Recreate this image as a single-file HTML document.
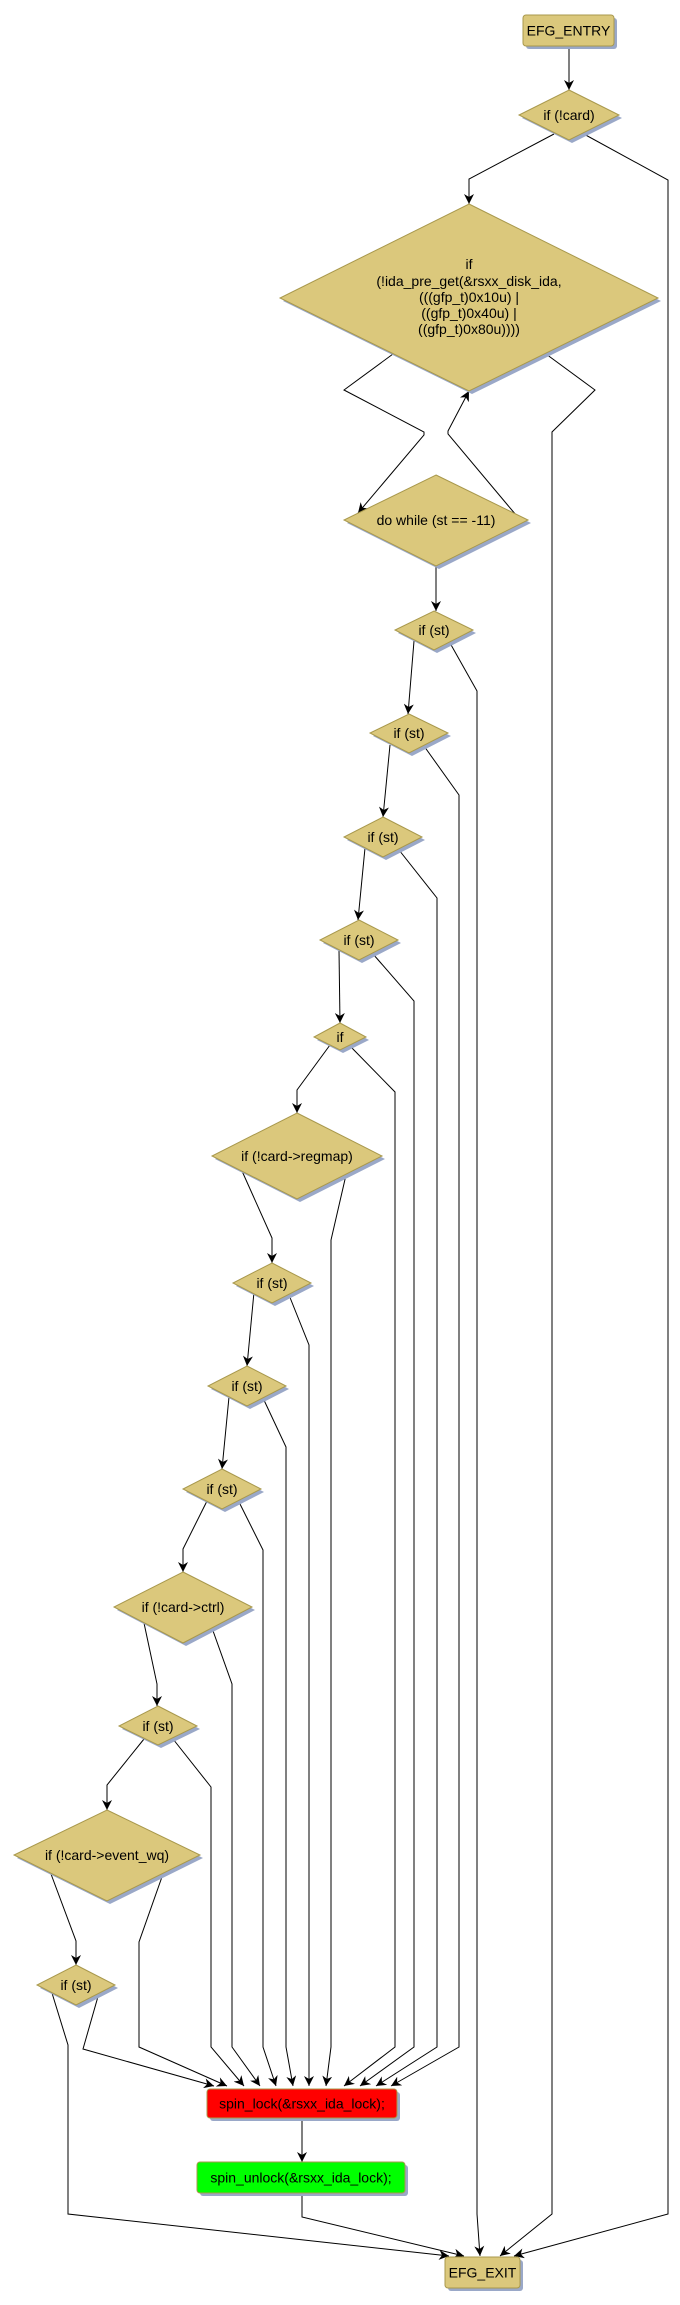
<!DOCTYPE html>
<html><head><meta charset="utf-8"><style>
html,body{margin:0;padding:0;background:#fff;}
svg{display:block;}
text{font-family:"Liberation Sans","DejaVu Sans",sans-serif;font-size:14px;fill:#000;}
.d{fill:#dbc87c;stroke:#a8984c;stroke-width:1;}
.s{fill:#9aa8c8;}
.e{fill:none;stroke:#000;stroke-width:1;}
</style></head><body>
<svg width="680" height="2305" viewBox="0 0 680 2305" xmlns="http://www.w3.org/2000/svg">
<defs>
<marker id="a" viewBox="0 0 10 10" refX="10" refY="5" markerWidth="10" markerHeight="10" markerUnits="userSpaceOnUse" orient="auto">
<path d="M0,0 L10,5 L0,10 L3,5 z" fill="#000"/></marker>
</defs>
<!-- edges -->
<g class="e">
<polyline points="569,46 569,90" marker-end="url(#a)"/>
<polyline points="554,134 469,179 469,204" marker-end="url(#a)"/>
<polyline points="582,133 668,180 668,2214 514,2256" marker-end="url(#a)"/>
<polyline points="393,354 344,390 424,432 424,435 358,513" marker-end="url(#a)"/>
<polyline points="516,515 448,434 448,431 469,391" marker-end="url(#a)"/>
<polyline points="546,354 595,390 552,432 552,2214 500,2256" marker-end="url(#a)"/>
<polyline points="436,566 436,611" marker-end="url(#a)"/>
<polyline points="414,641 408,714" marker-end="url(#a)"/>
<polyline points="450,643 477,691 477,2214 480,2256" marker-end="url(#a)"/>
<polyline points="390,745 383,817" marker-end="url(#a)"/>
<polyline points="424,746 459,795 459,2047 391,2086" marker-end="url(#a)"/>
<polyline points="365,848 358,920" marker-end="url(#a)"/>
<polyline points="399,850 437,898 437,2047 376,2086" marker-end="url(#a)"/>
<polyline points="339,950 340,1023" marker-end="url(#a)"/>
<polyline points="373,954 414,1001 414,2047 360,2086" marker-end="url(#a)"/>
<polyline points="330,1045 297,1090 297,1113" marker-end="url(#a)"/>
<polyline points="350,1046 395,1092 395,2047 344,2086" marker-end="url(#a)"/>
<polyline points="242,1171 272,1238 272,1263" marker-end="url(#a)"/>
<polyline points="346,1175 331,1240 331,2047 326,2086" marker-end="url(#a)"/>
<polyline points="254,1292 247,1366" marker-end="url(#a)"/>
<polyline points="289,1295 309,1345 309,2086" marker-end="url(#a)"/>
<polyline points="229,1397 222,1469" marker-end="url(#a)"/>
<polyline points="263,1398 286,1447 286,2047 293,2086" marker-end="url(#a)"/>
<polyline points="207,1501 183,1549 183,1572" marker-end="url(#a)"/>
<polyline points="239,1502 263,1550 263,2047 276,2086" marker-end="url(#a)"/>
<polyline points="144,1623 157,1684 157,1706" marker-end="url(#a)"/>
<polyline points="212,1628 232,1684 232,2047 260,2086" marker-end="url(#a)"/>
<polyline points="144,1739 107,1785 107,1810" marker-end="url(#a)"/>
<polyline points="173,1739 211,1787 211,2047 244,2086" marker-end="url(#a)"/>
<polyline points="51,1874 76,1941 76,1965" marker-end="url(#a)"/>
<polyline points="163,1874 139,1942 139,2047 227,2086" marker-end="url(#a)"/>
<polyline points="52,1993 68,2045 68,2214 449,2256" marker-end="url(#a)"/>
<polyline points="99,1993 83,2049 214,2086" marker-end="url(#a)"/>
<polyline points="302,2118 302,2162" marker-end="url(#a)"/>
<polyline points="302,2193 302,2217 464,2256" marker-end="url(#a)"/>
</g>
<!-- boxes -->
<rect x="526" y="18" width="91" height="31" rx="3" class="s"/>
<rect x="523" y="15" width="91" height="31" rx="3" class="d"/>
<text x="568.5" y="35.5" text-anchor="middle">EFG_ENTRY</text>

<rect x="210" y="2092" width="190" height="29" rx="3" class="s"/>
<rect x="207" y="2089" width="190" height="29" rx="3" fill="#ff0000" stroke="#a8984c"/>
<text x="302" y="2108.5" text-anchor="middle">spin_lock(&amp;rsxx_ida_lock);</text>

<rect x="200" y="2165" width="208" height="31" rx="3" class="s"/>
<rect x="197" y="2162" width="208" height="31" rx="3" fill="#00ff00" stroke="#a8984c"/>
<text x="301" y="2182.5" text-anchor="middle">spin_unlock(&amp;rsxx_ida_lock);</text>

<rect x="448" y="2260" width="75" height="31" rx="3" class="s"/>
<rect x="445" y="2257" width="75" height="31" rx="3" class="d"/>
<text x="482.5" y="2277.5" text-anchor="middle">EFG_EXIT</text>

<!-- diamonds: shadow then shape -->
<g>
<polygon class="s" points="572,93 622,118 572,143 522,118"/>
<polygon class="d" points="569,90 619,115 569,140 519,115"/>
<text x="569" y="120" text-anchor="middle">if (!card)</text>

<polygon class="s" points="472,207 661,301 472,394 283,301"/>
<polygon class="d" points="469,204 658,298 469,391 280,298"/>
<text x="469" y="269" text-anchor="middle">if</text>
<text x="469" y="286" text-anchor="middle">(!ida_pre_get(&amp;rsxx_disk_ida,</text>
<text x="469" y="302" text-anchor="middle">(((gfp_t)0x10u) |</text>
<text x="469" y="318" text-anchor="middle">((gfp_t)0x40u) |</text>
<text x="469" y="334" text-anchor="middle">((gfp_t)0x80u))))</text>

<polygon class="s" points="439,478 531,523 439,569 347,523"/>
<polygon class="d" points="436,475 528,520 436,566 344,520"/>
<text x="436" y="525" text-anchor="middle">do while (st == -11)</text>

<polygon class="s" points="437,614 476,633 437,653 398,633"/>
<polygon class="d" points="434,611 473,630 434,650 395,630"/>
<text x="434" y="635" text-anchor="middle">if (st)</text>

<polygon class="s" points="412,717 451,736 412,756 373,736"/>
<polygon class="d" points="409,714 448,733 409,753 370,733"/>
<text x="409" y="738" text-anchor="middle">if (st)</text>

<polygon class="s" points="386,820 425,840 386,860 347,840"/>
<polygon class="d" points="383,817 422,837 383,857 344,837"/>
<text x="383" y="842" text-anchor="middle">if (st)</text>

<polygon class="s" points="362,923 401,943 362,963 323,943"/>
<polygon class="d" points="359,920 398,940 359,960 320,940"/>
<text x="359" y="945" text-anchor="middle">if (st)</text>

<polygon class="s" points="343,1026 369,1040 343,1053 317,1040"/>
<polygon class="d" points="340,1023 366,1037 340,1050 314,1037"/>
<text x="340" y="1042" text-anchor="middle">if</text>

<polygon class="s" points="300,1116 385,1159 300,1202 215,1159"/>
<polygon class="d" points="297,1113 382,1156 297,1199 212,1156"/>
<text x="297" y="1161" text-anchor="middle">if (!card-&gt;regmap)</text>

<polygon class="s" points="275,1266 314,1286 275,1306 236,1286"/>
<polygon class="d" points="272,1263 311,1283 272,1303 233,1283"/>
<text x="272" y="1288" text-anchor="middle">if (st)</text>

<polygon class="s" points="250,1369 289,1389 250,1409 211,1389"/>
<polygon class="d" points="247,1366 286,1386 247,1406 208,1386"/>
<text x="247" y="1391" text-anchor="middle">if (st)</text>

<polygon class="s" points="225,1472 264,1492 225,1512 186,1492"/>
<polygon class="d" points="222,1469 261,1489 222,1509 183,1489"/>
<text x="222" y="1494" text-anchor="middle">if (st)</text>

<polygon class="s" points="186,1575 255,1610 186,1646 117,1610"/>
<polygon class="d" points="183,1572 252,1607 183,1643 114,1607"/>
<text x="183" y="1612" text-anchor="middle">if (!card-&gt;ctrl)</text>

<polygon class="s" points="161,1709 200,1729 161,1748 122,1729"/>
<polygon class="d" points="158,1706 197,1726 158,1745 119,1726"/>
<text x="158" y="1731" text-anchor="middle">if (st)</text>

<polygon class="s" points="110,1813 203,1858 110,1904 17,1858"/>
<polygon class="d" points="107,1810 200,1855 107,1901 14,1855"/>
<text x="107" y="1860" text-anchor="middle">if (!card-&gt;event_wq)</text>

<polygon class="s" points="79,1968 118,1988 79,2008 40,1988"/>
<polygon class="d" points="76,1965 115,1985 76,2005 37,1985"/>
<text x="76" y="1990" text-anchor="middle">if (st)</text>
</g>
</svg>
</body></html>
